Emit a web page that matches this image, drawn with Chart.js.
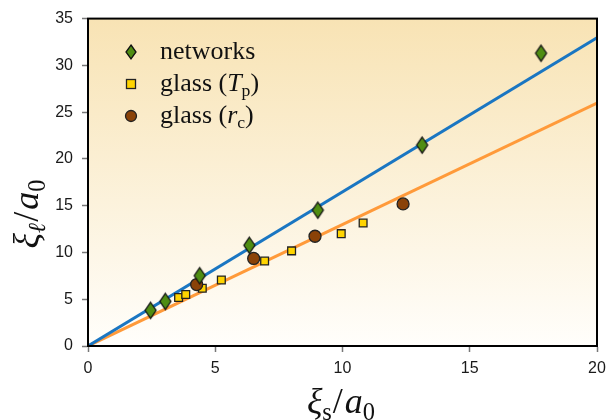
<!DOCTYPE html>
<html><head><meta charset="utf-8">
<script src="https://cdn.jsdelivr.net/npm/chart.js@4/dist/chart.umd.min.js"></script>
<style>html,body{margin:0;padding:0;background:#fff}canvas{display:block}</style>
</head><body>
<canvas id="c" width="615" height="420"></canvas>
<script>
// ---- data ----
const networksX = [2.46, 3.04, 4.39, 6.34, 9.03, 13.13, 17.8];
const networksY = [3.81, 4.77, 7.52, 10.77, 14.52, 21.48, 31.3];
const glassTpX = [3.56, 3.84, 4.49, 5.24, 6.94, 8.0, 9.95, 10.81];
const glassTpY = [5.19, 5.51, 6.18, 7.06, 9.08, 10.17, 12.01, 13.14];
const glassRcX = [4.27, 6.51, 8.92, 12.38];
const glassRcY = [6.57, 9.36, 11.73, 15.19];
const fitX = [0, 20];
const fitNetworksY = [0, 32.96];
const fitGlassY = [0, 25.96];
const xTicks = [0, 5, 10, 15, 20];
const yTicks = [0, 5, 10, 15, 20, 25, 30, 35];
const legendLabels = [
  [{t:'networks'}],
  [{t:'glass ('},{t:'T',i:true},{t:'p',sub:true},{t:')'}],
  [{t:'glass ('},{t:'r',i:true},{t:'c',sub:true},{t:')'}]
];

const pts = (xs, ys) => xs.map((x, k) => ({x, y: ys[k]}));

// elongated diamond marker
function diamond(w, h, fill) {
  const c = document.createElement('canvas');
  c.width = w + 4; c.height = h + 4;
  const g = c.getContext('2d');
  g.beginPath();
  g.moveTo(c.width/2, 2); g.lineTo(c.width-2, c.height/2);
  g.lineTo(c.width/2, c.height-2); g.lineTo(2, c.height/2); g.closePath();
  g.fillStyle = fill; g.fill();
  g.lineWidth = 1.3; g.strokeStyle = '#111'; g.stroke();
  return c;
}
const GREEN = '#4f8d12', YELLOW = '#ffd400', BROWN = '#8a4208';
const BLUE = '#1a76c2', ORANGE = '#ff9a3a';
const dia = diamond(11, 16, GREEN);
const diaSmall = diamond(10, 14, GREEN);

const SERIF = '"Liberation Serif", "DejaVu Serif", serif';

function drawRich(ctx, parts, x, y, size) {
  let cx = x;
  for (const p of parts) {
    const fs = p.sub ? size * 0.68 : size;
    ctx.font = (p.i ? 'italic ' : '') + fs + 'px ' + SERIF;
    const dy = p.sub ? size * 0.2 : 0;
    ctx.fillText(p.t, cx, y + dy);
    cx += ctx.measureText(p.t).width + (p.gap || 0);
  }
  return cx - x;
}
function measureRich(ctx, parts, size) {
  let w = 0;
  for (const p of parts) {
    const fs = p.sub ? size * 0.68 : size;
    ctx.font = (p.i ? 'italic ' : '') + fs + 'px ' + SERIF;
    w += ctx.measureText(p.t).width + (p.gap || 0);
  }
  return w;
}

const decor = {
  id: 'decor',
  beforeDatasetsDraw(chart) {
    const {ctx, chartArea: a} = chart;
    const g = ctx.createLinearGradient(0, a.top, 0, a.bottom);
    g.addColorStop(0, '#f8e3b4');
    g.addColorStop(1, '#fffefb');
    ctx.save();
    ctx.fillStyle = g;
    ctx.fillRect(a.left, a.top, a.right - a.left, a.bottom - a.top);
    ctx.restore();
  },
  afterDraw(chart) {
    const {ctx, chartArea: a} = chart;
    ctx.save();
    ctx.lineWidth = 2; ctx.strokeStyle = '#000';
    ctx.strokeRect(a.left, a.top, a.right - a.left, a.bottom - a.top);

    // legend
    const lx = 131, ly = [52, 84, 116];
    ctx.drawImage(diaSmall, lx - diaSmall.width/2, ly[0] - diaSmall.height/2);
    ctx.fillStyle = YELLOW; ctx.strokeStyle = '#222'; ctx.lineWidth = 1.3;
    ctx.fillRect(lx - 4.5, ly[1] - 4.5, 9, 9); ctx.strokeRect(lx - 4.5, ly[1] - 4.5, 9, 9);
    ctx.beginPath(); ctx.arc(lx, ly[2], 5.5, 0, Math.PI*2);
    ctx.fillStyle = BROWN; ctx.fill(); ctx.stroke();
    ctx.fillStyle = '#111'; ctx.textBaseline = 'alphabetic';
    legendLabels.forEach((parts, k) => drawRich(ctx, parts, 160, ly[k] + 7, 26));

    // axis titles
    const xt = [{t:'ξ',i:true},{t:'s',sub:true,gap:1},{t:'/',gap:2},{t:'a',i:true},{t:'0',sub:true}];
    const yt = [{t:'ξ',i:true},{t:'ℓ',sub:true,i:true,gap:1},{t:'/',gap:2},{t:'a',i:true},{t:'0',sub:true}];
    const S = 36;
    const wx = measureRich(ctx, xt, S);
    drawRich(ctx, xt, 341 - wx/2, 413, S);
    ctx.translate(38, 214);
    ctx.rotate(-Math.PI/2);
    const wy = measureRich(ctx, yt, S);
    drawRich(ctx, yt, -wy/2, 0, S);
    ctx.restore();
  }
};

const tickFont = {family: '"Liberation Sans", Arial, sans-serif', size: 16};

new Chart(document.getElementById('c'), {
  type: 'scatter',
  data: {
    datasets: [
      {label: 'networks', data: pts(networksX, networksY), pointStyle: dia, pointRadius: 8, order: 1},
      {label: 'glass (Tp)', data: pts(glassTpX, glassTpY), pointStyle: 'rect', pointRadius: 5.5,
       backgroundColor: YELLOW, borderColor: '#222', borderWidth: 1.3, order: 3},
      {label: 'glass (rc)', data: pts(glassRcX, glassRcY), pointStyle: 'circle', pointRadius: 6,
       backgroundColor: BROWN, borderColor: '#222', borderWidth: 1.3, order: 2},
      {label: 'fit networks', data: pts(fitX, fitNetworksY), showLine: true, pointRadius: 0,
       borderColor: BLUE, borderWidth: 3, order: 5},
      {label: 'fit glass', data: pts(fitX, fitGlassY), showLine: true, pointRadius: 0,
       borderColor: ORANGE, borderWidth: 3, order: 6}
    ]
  },
  options: {
    responsive: false, animation: false, devicePixelRatio: 1,
    layout: {padding: {left: 0, right: 18, top: 17, bottom: 0}},
    plugins: {legend: {display: false}, tooltip: {enabled: false}},
    elements: {point: {hoverRadius: 6}},
    scales: {
      x: {
        type: 'linear', min: 0, max: 20,
        afterBuildTicks: s => { s.ticks = xTicks.map(v => ({value: v})); },
        afterFit: s => { s.height = 74; },
        grid: {drawOnChartArea: false, drawTicks: true, tickLength: 6, color: '#777', tickWidth: 1.5},
        border: {display: true, color: '#000', width: 2},
        ticks: {font: tickFont, color: '#1a1a1a', padding: 7, maxRotation: 0}
      },
      y: {
        type: 'linear', min: 0, max: 35,
        afterBuildTicks: s => { s.ticks = yTicks.map(v => ({value: v})); },
        afterFit: s => { s.width = 88; },
        grid: {drawOnChartArea: false, drawTicks: true, tickLength: 6, color: '#777', tickWidth: 1.5},
        border: {display: true, color: '#000', width: 2},
        ticks: {font: tickFont, color: '#1a1a1a', padding: 9}
      }
    }
  },
  plugins: [decor]
});
</script>
</body></html>
